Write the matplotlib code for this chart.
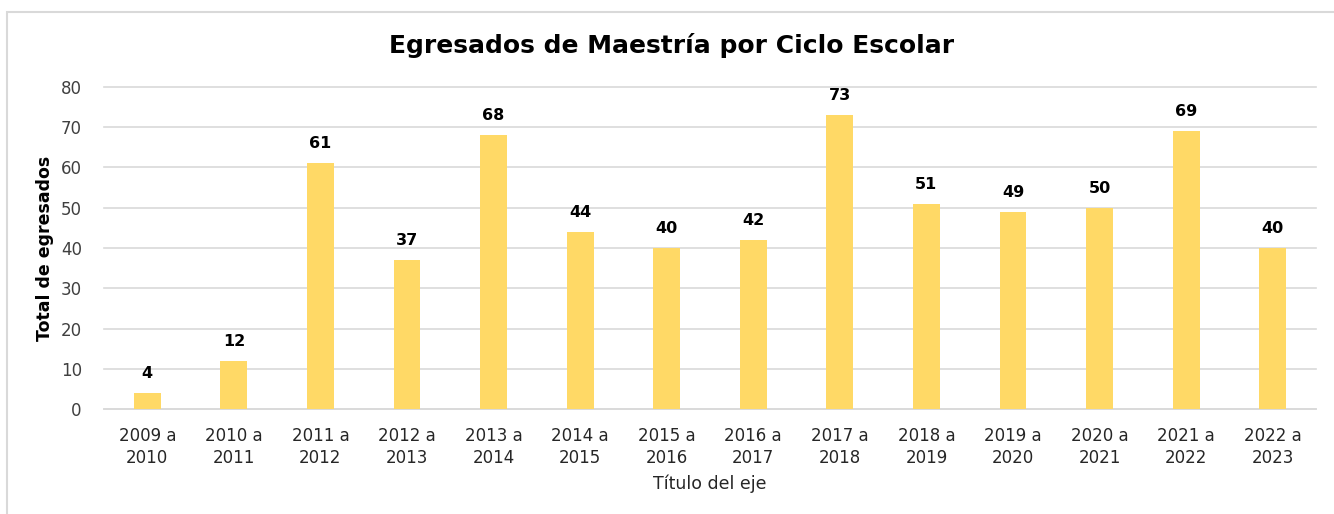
import matplotlib
matplotlib.use("Agg")
import matplotlib.pyplot as plt
from matplotlib.patches import Rectangle

categories = ["2009 a\n2010", "2010 a\n2011", "2011 a\n2012", "2012 a\n2013", "2013 a\n2014",
              "2014 a\n2015", "2015 a\n2016", "2016 a\n2017", "2017 a\n2018", "2018 a\n2019",
              "2019 a\n2020", "2020 a\n2021", "2021 a\n2022", "2022 a\n2023"]
values = [4, 12, 61, 37, 68, 44, 40, 42, 73, 51, 49, 50, 69, 40]
yticks = [0, 10, 20, 30, 40, 50, 60, 70, 80]

plt.rcParams['font.family'] = ['DejaVu Sans']

W, H = 1334, 514
fig = plt.figure(figsize=(W/100, H/100), dpi=100)
fig.patches.append(Rectangle((7/W, -0.1), 1.2, 1 - 12/H + 0.1, transform=fig.transFigure,
                             fill=False, edgecolor="#D9D9D9", linewidth=1.5))

ax = fig.add_axes([104/W, 1 - 409/H, (1316-104)/W, (409-87)/H])
x = range(len(categories))
ax.bar(x, values, width=0.31, color="#FFD966", zorder=3)
for xi, v in zip(x, values):
    ax.text(xi, v + 3.0, str(v), ha="center", va="bottom", fontsize=11.5, fontweight="bold", color="#000000")

ax.set_ylim(0, 80)
ax.set_xlim(-0.5, len(categories) - 0.5)
ax.set_yticks(yticks)
ax.set_xticks(list(x))
ax.set_xticklabels(categories, fontsize=12, color="#262626", linespacing=1.3)
ax.tick_params(axis="y", labelsize=12, labelcolor="#404040", length=0, pad=16)
ax.tick_params(axis="x", length=0, pad=13)
ax.grid(axis="y", color="#D9D9D9", linewidth=1.2, zorder=0)
for gl in ax.get_ygridlines():
    gl.set_clip_on(False)
for s in ["top", "right", "left"]:
    ax.spines[s].set_visible(False)
ax.spines["bottom"].set_color("#D9D9D9")
ax.spines["bottom"].set_linewidth(1.2)

ax.set_ylabel("Total de egresados", fontsize=12.5, fontweight="bold", color="#000000", labelpad=5)
ax.set_xlabel("Título del eje", fontsize=12.5, color="#262626", labelpad=5)
fig.text(672/W, 1 - 45/H, "Egresados de Maestría por Ciclo Escolar", ha="center", va="center",
         fontsize=18, fontweight="bold", color="#000000")

fig.savefig("out.png", dpi=100)
